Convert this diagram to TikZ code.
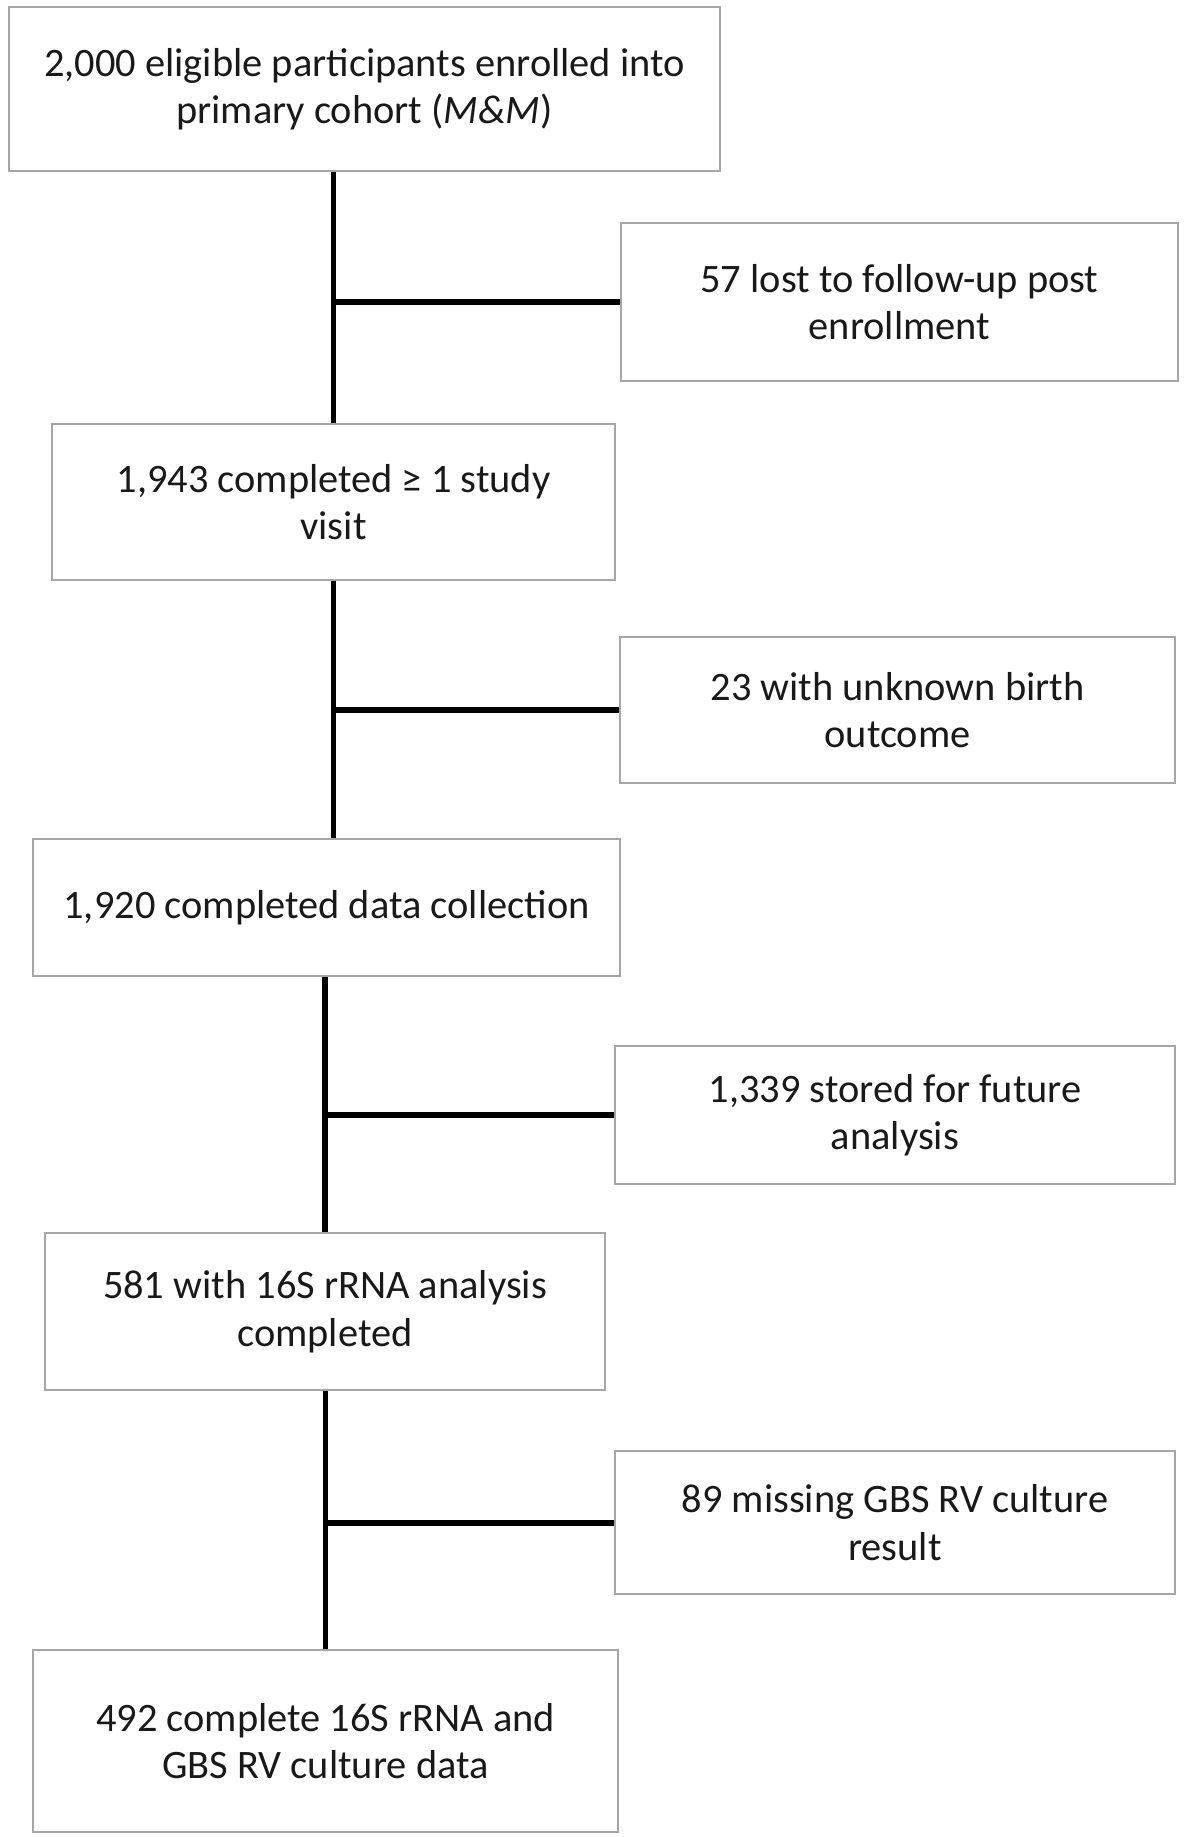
\documentclass[tikz,border=0pt]{standalone}
\usepackage{fontspec}
\setmainfont{Carlito}
\usepackage{tikz}
\usepackage{xcolor}

\begin{document}
\begin{tikzpicture}[x=0.02cm,y=-0.02cm,
  box/.style={draw=gray!70,line width=1.5pt,align=center,inner sep=0pt,text=black!90,
    font=\fontsize{23pt}{27pt}\selectfont},
  conn/.style={line width=3.4pt}]
  \useasboundingbox (0,0) rectangle (1200,1837);
  \node[box,minimum width=14.22cm,minimum height=3.28cm] (enrolled) at (364.5,89) {2,000 eligible participants enrolled into\\primary cohort (\textit{M\&M})};
  \node[box,minimum width=11.14cm,minimum height=3.16cm] (lost) at (899.5,302) {57 lost to follow-up post\\enrollment};
  \node[box,minimum width=11.26cm,minimum height=3.12cm] (visit) at (333.5,502) {1,943 completed ≥ 1 study\\visit};
  \node[box,minimum width=11.10cm,minimum height=2.92cm] (unknown) at (897.5,710) {23 with unknown birth\\outcome};
  \node[box,minimum width=11.74cm,minimum height=2.74cm] (collected) at (326.5,907.5) {1,920 completed data collection};
  \node[box,minimum width=11.20cm,minimum height=2.76cm] (stored) at (895,1115) {1,339 stored for future\\analysis};
  \node[box,minimum width=11.20cm,minimum height=3.14cm] (analysed) at (325,1311.5) {581 with 16S rRNA analysis\\completed};
  \node[box,minimum width=11.20cm,minimum height=2.86cm] (missing) at (895,1522.5) {89 missing GBS RV culture\\result};
  \node[box,minimum width=11.70cm,minimum height=3.64cm] (final) at (325.5,1741) {492 complete 16S rRNA and\\GBS RV culture data};
  % trunk and side branches
  \draw[conn] (visit.north) -- (visit.north |- enrolled.south);
  \draw[conn] (visit.north |- lost.west) -- (lost.west);
  \draw[conn] (collected.north -| visit.south) -- (visit.south);
  \draw[conn] (visit.south |- unknown.west) -- (unknown.west);
  \draw[conn] (analysed.north) -- (analysed.north |- collected.south);
  \draw[conn] (analysed.north |- stored.west) -- (stored.west);
  \draw[conn] (final.north) -- (final.north |- analysed.south);
  \draw[conn] (final.north |- missing.west) -- (missing.west);
\end{tikzpicture}
\end{document}
